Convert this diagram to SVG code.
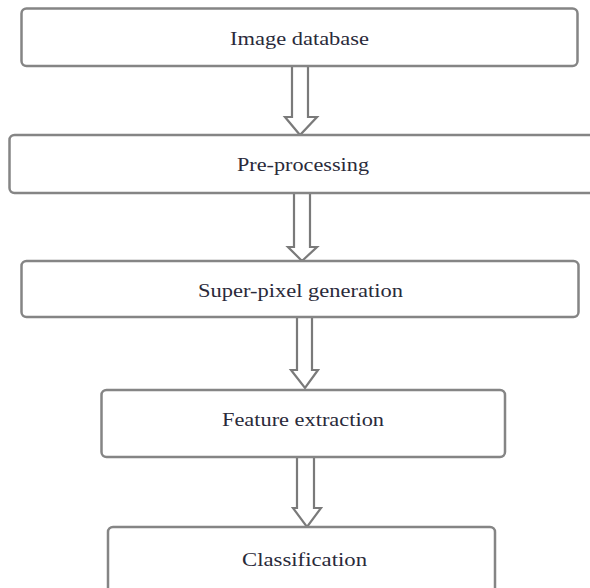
<svg xmlns="http://www.w3.org/2000/svg" width="590" height="588" viewBox="0 0 590 588">
<style>
.box{fill:#fff;stroke:#858585;stroke-width:2.5}
.lbl{font-family:"Liberation Serif","Times New Roman",serif;font-size:18px;fill:#2a2a3a;text-anchor:start}
.arr{fill:#fff;stroke:#7a7a7a;stroke-width:2.2;stroke-linejoin:miter}
</style>
<rect width="590" height="588" fill="#fff"/>
<g id="connectors">
<polygon class="arr" points="292,66 308,66 308,117 317,117 300,135 285,117 292,117"/>
<polygon class="arr" points="294,193 310,193 310,247 317,247 302,261 288,247 294,247"/>
<polygon class="arr" points="297,317 312,317 312,370 318,370 305,388 291,370 297,370"/>
<polygon class="arr" points="297,457 314,457 314,508 321,508 307,527 293,508 297,508"/>
</g>
<g id="n1"><rect class="box" x="21.5" y="8.5" width="556" height="57.5" rx="5"/><text class="lbl" x="230" y="45" textLength="139" lengthAdjust="spacingAndGlyphs">Image database</text></g>
<g id="n2"><rect class="box" x="9.5" y="135" width="590" height="58" rx="5"/><text class="lbl" x="237" y="171" textLength="132" lengthAdjust="spacingAndGlyphs">Pre-processing</text></g>
<g id="n3"><rect class="box" x="21.5" y="261" width="557" height="56" rx="5"/><text class="lbl" x="198" y="297" textLength="205" lengthAdjust="spacingAndGlyphs">Super-pixel generation</text></g>
<g id="n4"><rect class="box" x="101.5" y="390" width="403.5" height="67" rx="5"/><text class="lbl" x="222" y="426" textLength="162" lengthAdjust="spacingAndGlyphs">Feature extraction</text></g>
<g id="n5"><rect class="box" x="108" y="527" width="387" height="80" rx="5"/><text class="lbl" x="242" y="566" textLength="125" lengthAdjust="spacingAndGlyphs">Classification</text></g>
</svg>
